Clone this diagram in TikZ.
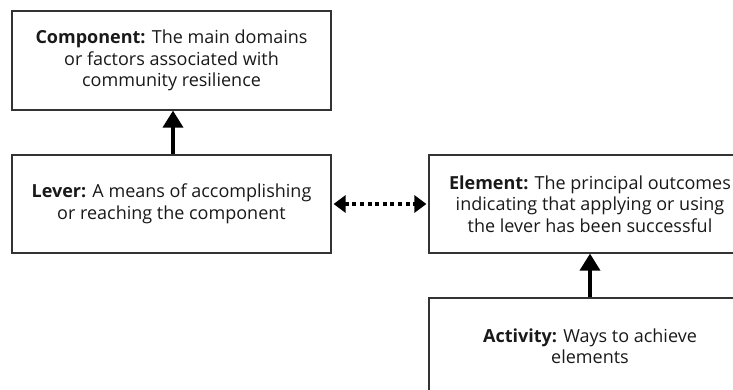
\documentclass[tikz,border=0pt]{standalone}
\usepackage{fontspec}
\setmainfont{Open Sans}
\usepackage{tikz}
\usetikzlibrary{arrows.meta}

\begin{document}
\begin{tikzpicture}[x=1pt, y=1pt,
        box/.style={draw=black!80, line width=1.2pt, align=center, inner sep=0pt,
            font=\fontsize{18}{21.5}\selectfont, text=black!90},
        upline/.style={line width=3.6pt, -{Triangle[width=20pt, length=17pt]}},
        dotline/.style={line width=3.6pt, dash pattern=on 4pt off 3.6pt,
            {Triangle[width=17pt, length=12pt]}-{Triangle[width=17pt, length=12pt]}}]
        % frame
        \useasboundingbox (0,0) rectangle (733,389);
        \clip (0,0) rectangle (733,389);

        % boxes
        \node[box, minimum width=319pt, minimum height=99pt] (comp) at (171.5,328.5)
            {\textbf{Component:} The main domains\\or factors associated with\\community resilience};
        \node[box, minimum width=319pt, minimum height=98pt] (lever) at (171.5,185)
            {\textbf{Lever:} A means of accomplishing\\or reaching the component};
        \node[box, minimum width=322pt, minimum height=98pt] (elem) at (590,185)
            {\textbf{Element:} The principal outcomes\\indicating that applying or using\\the lever has been successful};
        \node[box, minimum width=322pt, minimum height=96pt] (act) at (590,43)
            {\textbf{Activity:} Ways to achieve\\elements};

        % arrows
        \draw[upline] (lever.north) ++(1.5,0) coordinate (leverTop) -- (leverTop |- comp.south);
        \draw[dotline] (lever.east) ++(2,0) -- ([xshift=-2pt]elem.west);
        \draw[upline] (act.north) coordinate (actTop) -- (actTop |- elem.south);
    \end{tikzpicture}
\end{document}
